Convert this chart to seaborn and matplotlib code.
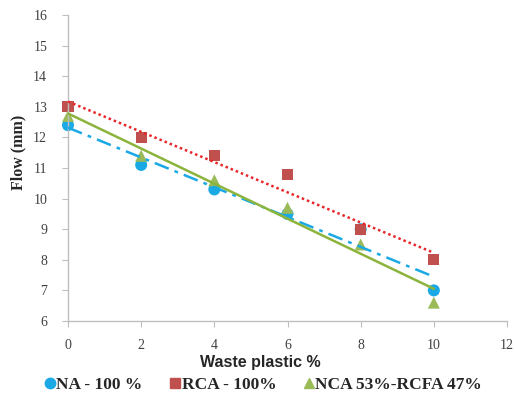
import numpy as np
import pandas as pd
import matplotlib
matplotlib.use("Agg")
import matplotlib.pyplot as plt
import seaborn as sns
from matplotlib.lines import Line2D

waste = [0, 2, 4, 6, 8, 10]
na_100 = [12.4, 11.1, 10.3, 9.5, 9.0, 7.0]
rca_100 = [13.0, 12.0, 11.4, 10.8, 9.0, 8.0]
nca_rcfa = [12.7, 11.4, 10.6, 9.7, 8.5, 6.6]
series_names = ["NA - 100 %", "RCA - 100%", "NCA 53%-RCFA 47%"]
x_ticks = [0, 2, 4, 6, 8, 10, 12]
y_ticks = [6, 7, 8, 9, 10, 11, 12, 13, 14, 15, 16]

sns.set_style("white")
plt.rcParams["font.family"] = ["Liberation Serif", "DejaVu Serif"]

df = pd.DataFrame({
    "x": waste * 3,
    "y": na_100 + rca_100 + nca_rcfa,
    "s": [series_names[0]] * 6 + [series_names[1]] * 6 + [series_names[2]] * 6,
})

fig = plt.figure(figsize=(5.14, 3.96), dpi=100)
ax = fig.add_axes([68 / 514, 1 - 321 / 396, (507 - 68) / 514, (321 - 15) / 396])

marker_col = ["#1BA9E6", "#C0504D", "#9BBB59"]
line_col = ["#1BA9E6", "#E8262A", "#8CB43C"]
markers = ["o", "s", "^"]
styles = [(0, (6, 2.5, 1.5, 2.5)), (0, (1, 1.2)), "-"]
sizes = [75, 65, 75]

for i, name in enumerate(series_names):
    sub = df[df["s"] == name]
    sns.scatterplot(data=sub, x="x", y="y", ax=ax, marker=markers[i], s=sizes[i],
                    color=marker_col[i], edgecolor="none", zorder=2, legend=False,
                    clip_on=False)
for i, name in enumerate(series_names):
    sub = df[df["s"] == name]
    sns.regplot(data=sub, x="x", y="y", ax=ax, scatter=False, ci=None,
                line_kws=dict(color=line_col[i], linestyle=styles[i], lw=1.8, zorder=3))

ax.set_xlim(0, 12)
ax.set_ylim(6, 16)
ax.set_xticks(x_ticks)
ax.set_yticks(y_ticks)
ax.tick_params(axis="both", labelsize=10, colors="#404040", length=4, direction="out",
               left=True, bottom=True)
ax.tick_params(axis="y", pad=11)
ax.tick_params(axis="x", pad=9)
for t in ax.get_xticklabels() + ax.get_yticklabels():
    t.set_color("#404040")
for sp in ["top", "right"]:
    ax.spines[sp].set_visible(False)
for sp in ["left", "bottom"]:
    ax.spines[sp].set_color("#BFBFBF")
    ax.spines[sp].set_linewidth(1.0)
ax.tick_params(axis="both", color="#BFBFBF")

ax.set_xlabel("Waste plastic %", fontsize=11.5, fontweight="bold",
              family=["Liberation Sans", "DejaVu Sans"], labelpad=2)
ax.xaxis.set_label_coords((260 - 68) / (507 - 68), -(362 - 321) / 306 + 0.0)
ax.xaxis.label.set_verticalalignment("center")
ax.set_ylabel("Flow (mm)", fontsize=11.5, fontweight="bold")
ax.yaxis.set_label_coords(-(68 - 18) / (507 - 68), (321 - 152) / 306)
ax.yaxis.label.set_verticalalignment("center")

handles = [Line2D([], [], marker=markers[i], color=marker_col[i], linestyle="none",
                  markersize=7.5) for i in range(3)]
fig.legend(handles, series_names, loc="center", bbox_to_anchor=(0.513, 1 - 385 / 396),
           ncol=3, frameon=False, handlelength=0.5, handletextpad=0.15, columnspacing=1.6,
           prop=dict(weight="bold", size=12.5))

fig.savefig("out.png", dpi=100)
